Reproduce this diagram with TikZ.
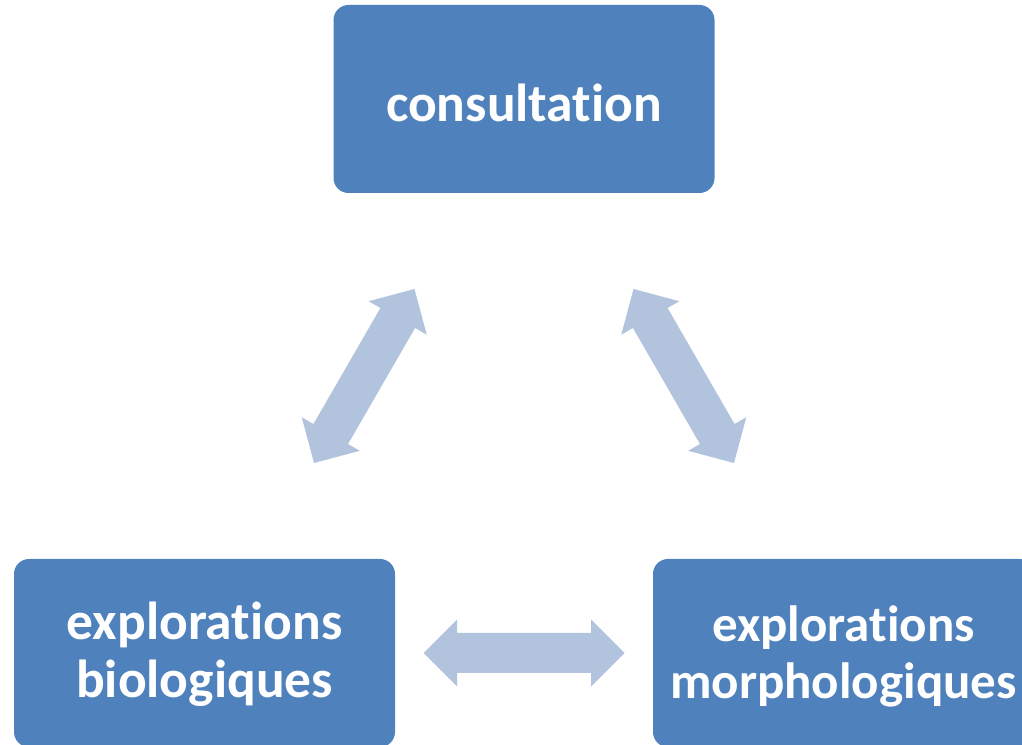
\documentclass[tikz,border=0pt]{standalone}
\usepackage{fontspec}
\setmainfont[Ligatures=NoCommon]{Carlito}
\usetikzlibrary{calc}
\definecolor{boxblue}{HTML}{4F81BD}
\definecolor{arrowblue}{HTML}{B2C3DE}

\begin{document}
\begin{tikzpicture}[x=1pt,y=1pt,
  box/.style={fill=boxblue,rounded corners=15pt,minimum width=381pt,minimum height=188pt,inner sep=0pt,
    align=center,text=white,font=\fontsize{53.5}{58}\selectfont\bfseries,text height=46pt},
  twoline/.style={text height=99pt},
  dblarrow/.pic={\fill[arrowblue] (-100.5,0) -- (-67,33.5) -- (-67,20) -- (67,20) -- (67,33.5) -- (100.5,0)
    -- (67,-33.5) -- (67,-20) -- (-67,-20) -- (-67,-33.5) -- cycle;}]
  \useasboundingbox (0,0) rectangle (1022,744);
  \node[box] (cons) at (524,645) {consultation};
  \node[box,twoline] (bio) at (204.5,91) {explorations\\biologiques};
  \node[box,twoline,font=\fontsize{51}{57}\selectfont\bfseries] (morpho) at (843.5,91) {explorations\\morphologiques};
  \pic[rotate=60] at ($(bio)!0.5!(cons)$) {dblarrow};
  \pic[rotate=-60] at ($(morpho)!0.5!(cons)$) {dblarrow};
  \pic at ($(bio)!0.5!(morpho)$) {dblarrow};
\end{tikzpicture}
\end{document}
